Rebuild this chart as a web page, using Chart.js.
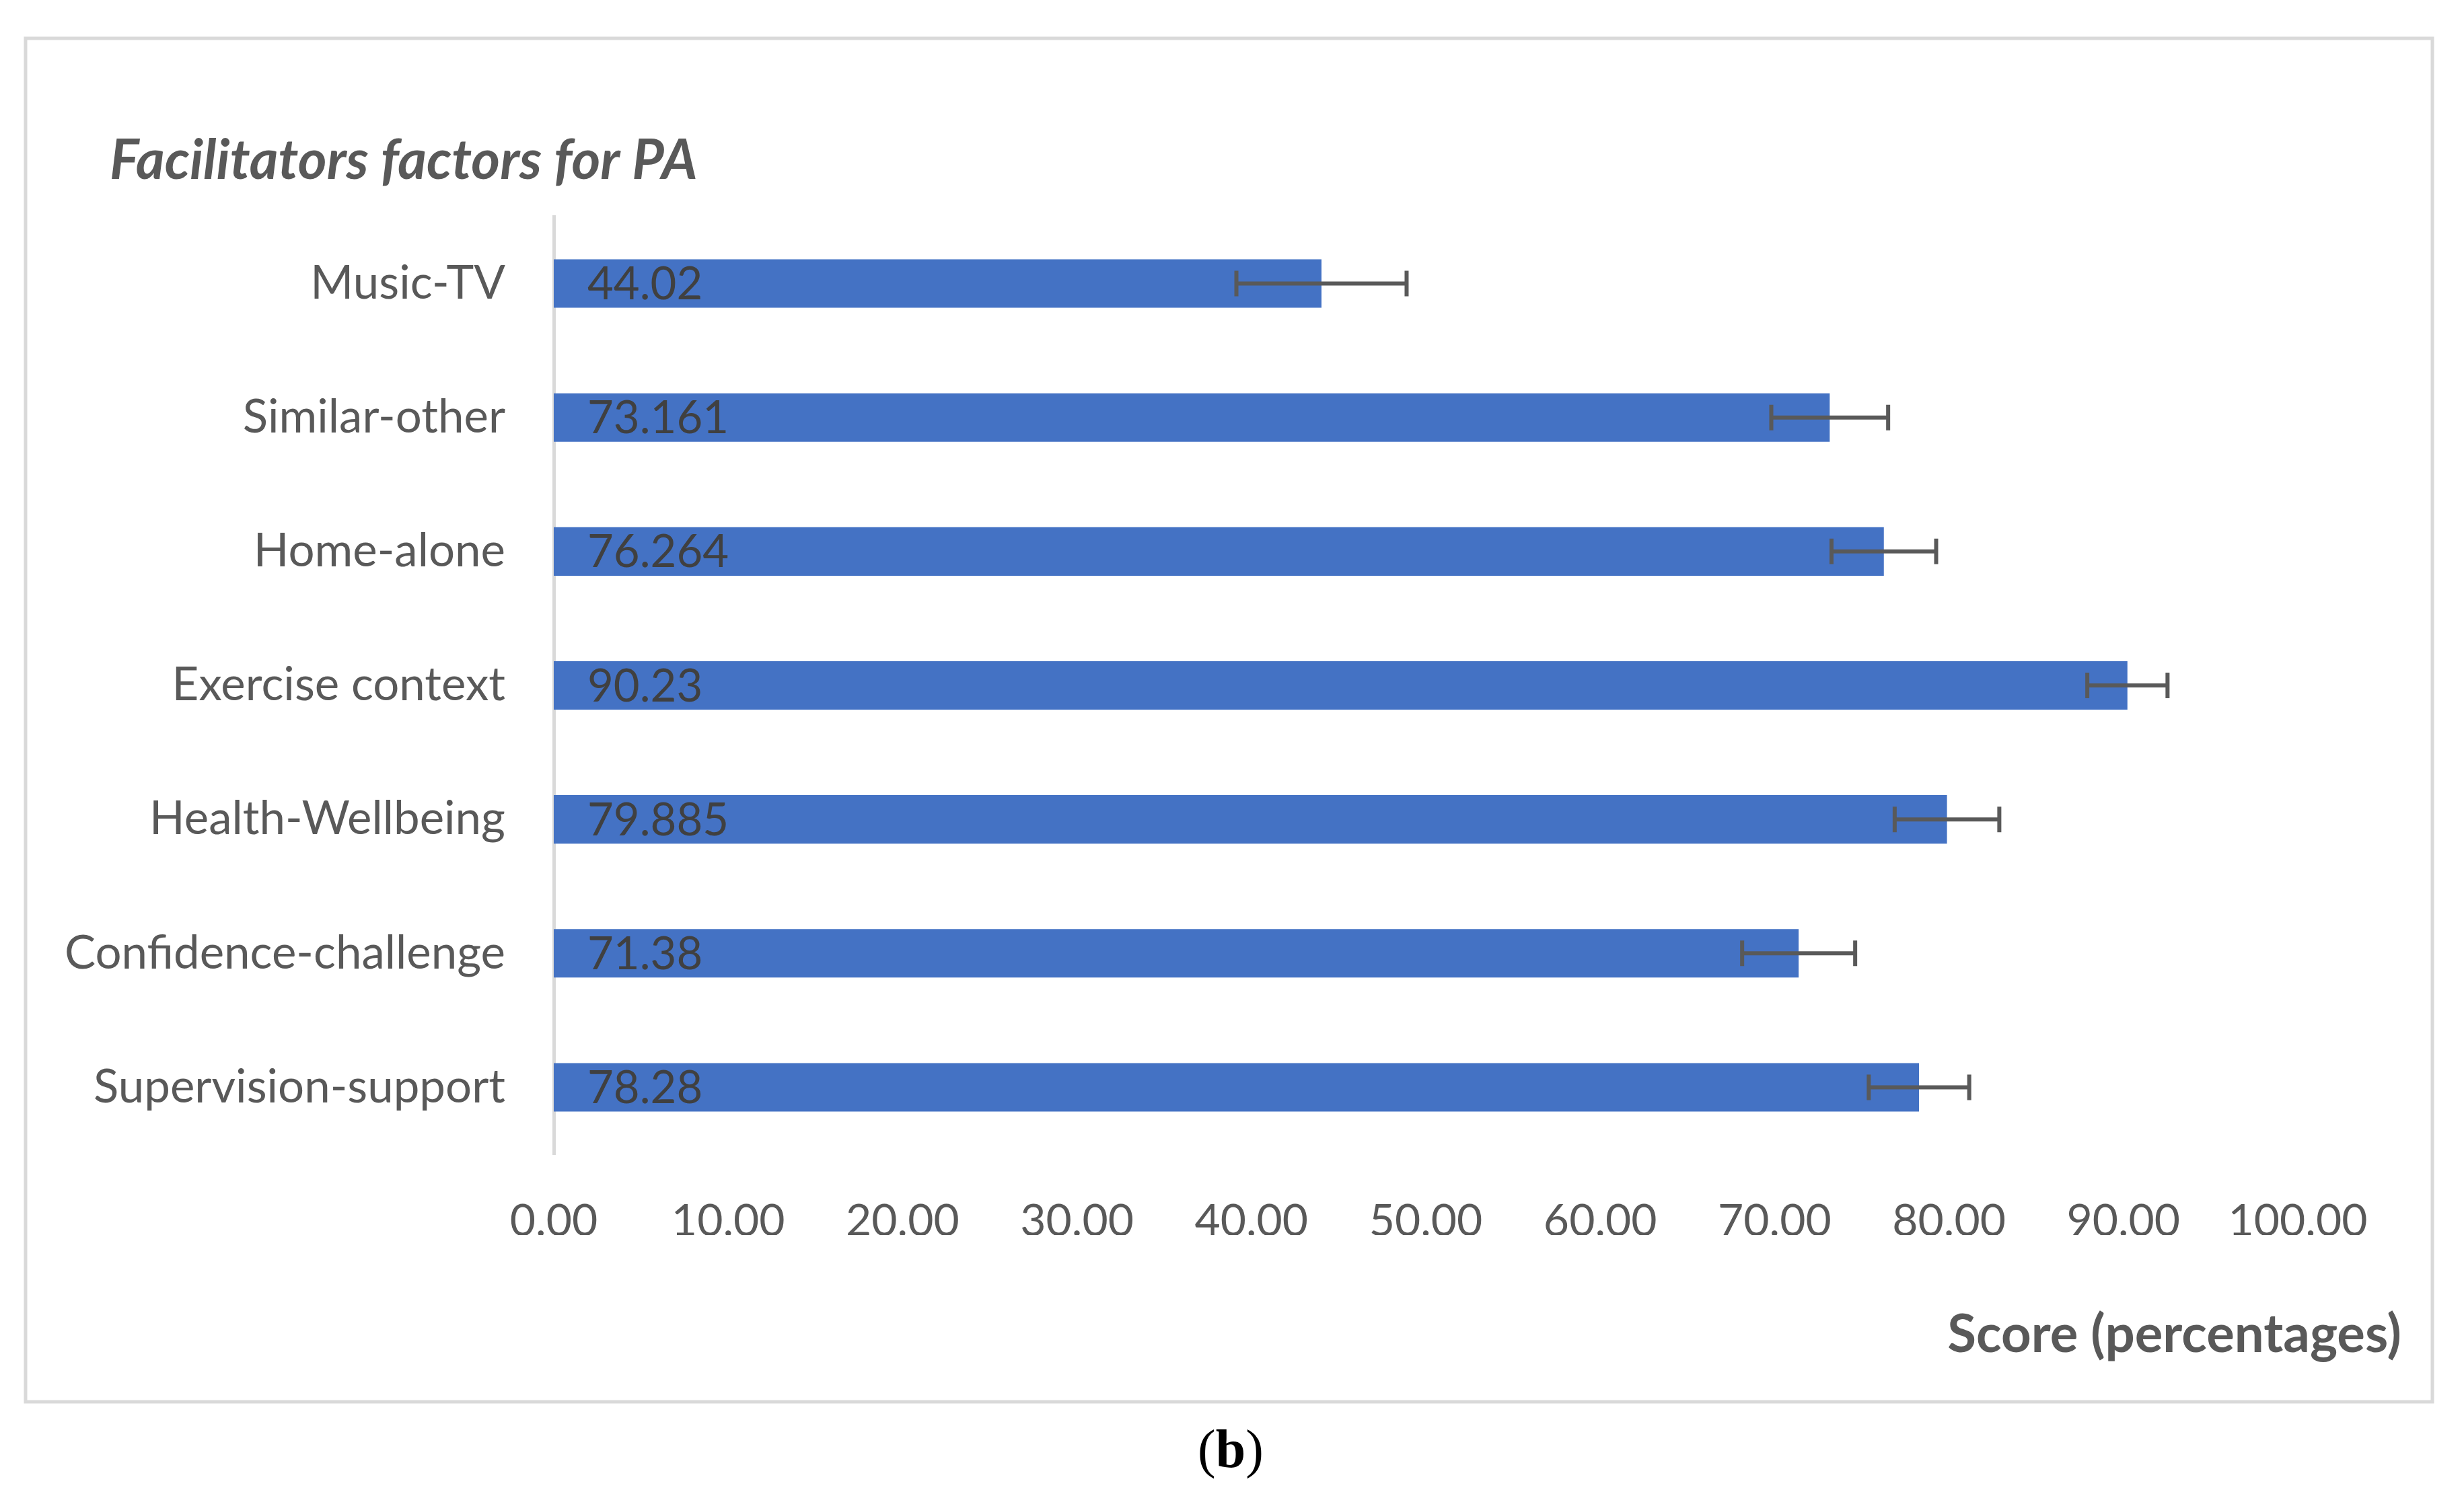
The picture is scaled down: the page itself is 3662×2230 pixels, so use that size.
<!DOCTYPE html>
<html>
<head>
<meta charset="utf-8">
<script src="https://cdn.jsdelivr.net/npm/chart.js@4.4.1/dist/chart.umd.min.js"></script>
<style>
  body { margin: 0; background: #fff; }
  canvas { display: block; }
</style>
</head>
<body>
<canvas id="facilitatorsChart" width="3662" height="2230"></canvas>
<script>
const categories = [
  "Music-TV",
  "Similar-other",
  "Home-alone",
  "Exercise context",
  "Health-Wellbeing",
  "Confidence-challenge",
  "Supervision-support",
];
const scores = [44.02, 73.161, 76.264, 90.23, 79.885, 71.38, 78.28];
const errors = [4.88, 3.35, 3.0, 2.3, 3.0, 3.24, 2.88];
const xTicks = [0, 10, 20, 30, 40, 50, 60, 70, 80, 90, 100];

const chartTitle = "Facilitators factors for PA";
const axisTitle = "Score (percentages)";
const panelLabel = "b";

const fontFamily = "Lato, 'Open Sans', sans-serif";
const textGrey = "#595959";

// frame, title, axis title and the (b) caption
const decorations = {
  id: "decorations",
  beforeDraw(chart) {
    const ctx = chart.ctx;
    ctx.save();
    ctx.fillStyle = "#fff";
    ctx.fillRect(0, 0, chart.width, chart.height);
    ctx.strokeStyle = "#d9d9d9";
    ctx.lineWidth = 5;
    ctx.strokeRect(38, 57, 3577, 2027);
    ctx.restore();
  },
  afterDraw(chart) {
    const ctx = chart.ctx;
    ctx.save();
    ctx.fillStyle = textGrey;
    ctx.textBaseline = "middle";

    ctx.font = "italic bold 82px " + fontFamily;
    ctx.textAlign = "left";
    ctx.fillText(chartTitle, 163, 240);

    ctx.font = "bold 78px " + fontFamily;
    ctx.textAlign = "right";
    ctx.fillText(axisTitle, 3569, 1985);

    // caption: "(" normal, "b" bold, ")" normal
    ctx.fillStyle = "#000";
    ctx.textAlign = "left";
    const serif = "'Liberation Serif', 'DejaVu Serif', serif";
    ctx.font = "80px " + serif;
    const wOpen = ctx.measureText("(").width;
    const wClose = ctx.measureText(")").width;
    ctx.font = "bold 80px " + serif;
    const wB = ctx.measureText(panelLabel).width;
    let x = 1829 - (wOpen + wB + wClose) / 2;
    ctx.font = "80px " + serif;
    ctx.fillText("(", x, 2160);
    x += wOpen;
    ctx.font = "bold 80px " + serif;
    ctx.fillText(panelLabel, x, 2160);
    x += wB;
    ctx.font = "80px " + serif;
    ctx.fillText(")", x, 2160);
    ctx.restore();
  },
};

// error bars + value labels at the start of each bar
const barExtras = {
  id: "barExtras",
  afterDatasetsDraw(chart) {
    const ctx = chart.ctx;
    const xScale = chart.scales.x;
    const meta = chart.getDatasetMeta(0);
    ctx.save();

    ctx.font = "67px " + fontFamily;
    ctx.fillStyle = "#404040";
    ctx.textAlign = "left";
    ctx.textBaseline = "middle";
    meta.data.forEach((bar, i) => {
      ctx.fillText(String(scores[i]), xScale.getPixelForValue(0) + 50, bar.y + 2);
    });

    ctx.strokeStyle = "#595959";
    ctx.lineWidth = 6;
    meta.data.forEach((bar, i) => {
      const x0 = xScale.getPixelForValue(scores[i] - errors[i]);
      const x1 = xScale.getPixelForValue(scores[i] + errors[i]);
      const y = bar.y;
      ctx.beginPath();
      ctx.moveTo(x0, y);
      ctx.lineTo(x1, y);
      ctx.moveTo(x0, y - 19);
      ctx.lineTo(x0, y + 19);
      ctx.moveTo(x1, y - 19);
      ctx.lineTo(x1, y + 19);
      ctx.stroke();
    });
    ctx.restore();
  },
};

const ctx = document.getElementById("facilitatorsChart").getContext("2d");
new Chart(ctx, {
  type: "bar",
  data: {
    labels: categories,
    datasets: [
      {
        label: "Score",
        data: scores,
        backgroundColor: "#4472C4",
        borderWidth: 0,
        barPercentage: 0.362,
        categoryPercentage: 1,
      },
    ],
  },
  options: {
    indexAxis: "y",
    responsive: false,
    animation: false,
    layout: {
      padding: { top: 322, left: 0, right: 247, bottom: 394 },
    },
    plugins: {
      legend: { display: false },
      title: { display: false },
      tooltip: { enabled: false },
    },
    scales: {
      x: {
        min: xTicks[0],
        max: xTicks[xTicks.length - 1],
        afterBuildTicks: (scale) => {
          scale.ticks = xTicks.map((v) => ({ value: v }));
        },
        afterFit: (scale) => {
          scale.height = 120;
        },
        grid: { display: false, drawTicks: false },
        border: { display: false },
        ticks: {
          padding: 60,
          color: textGrey,
          font: { family: fontFamily, size: 66 },
          maxRotation: 0,
          callback: (value) => Number(value).toFixed(2),
        },
      },
      y: {
        afterFit: (scale) => {
          scale.width = 823;
        },
        grid: { display: false, drawTicks: false },
        border: { display: true, color: "#d9d9d9", width: 5 },
        ticks: {
          padding: 72,
          color: textGrey,
          font: { family: fontFamily, size: 69 },
        },
      },
    },
  },
  plugins: [decorations, barExtras],
});
</script>
</body>
</html>
